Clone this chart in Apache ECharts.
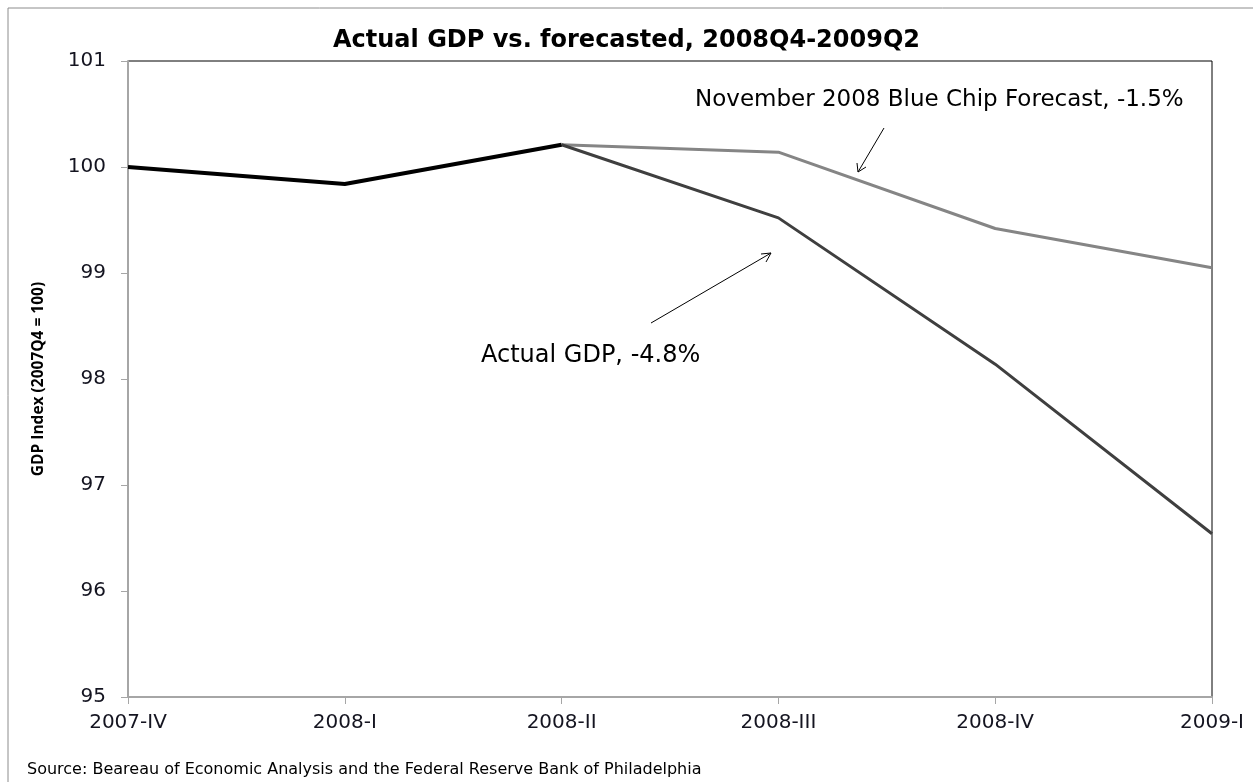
<!DOCTYPE html>
<html>
<head>
<meta charset="utf-8">
<script src="https://cdn.jsdelivr.net/npm/echarts@6/dist/echarts.min.js"></script>
<style>html,body{margin:0;padding:0;background:#fff;}#c{width:1253px;height:782px;}</style>
</head>
<body>
<div id="c"></div>
<script>
var categories = ['2007-IV', '2008-I', '2008-II', '2008-III', '2008-IV', '2009-I'];
var actualHistory = [100.0, 99.84, 100.21, null, null, null];
var actualGDP = [null, null, 100.21, 99.52, 98.14, 96.54];
var blueChipForecast = [null, null, 100.21, 100.14, 99.42, 99.05];
var yTicks = [95, 96, 97, 98, 99, 100, 101];

var FONT = '"DejaVu Sans", "Open Sans", sans-serif';
var NARROW = '"Open Sans", "Noto Sans", sans-serif';
var chart = echarts.init(document.getElementById('c'), null, {renderer: 'canvas'});
chart.setOption({
  animation: false,
  backgroundColor: '#fff',
  title: {
    text: 'Actual GDP vs. forecasted, 2008Q4-2009Q2',
    left: 'center', top: 24,
    textStyle: {fontFamily: FONT, fontWeight: 'bold', fontSize: 24, color: '#000'}
  },
  grid: {left: 128, top: 61, right: 41, bottom: 85, show: true, borderColor: '#000', borderWidth: 1, backgroundColor: 'transparent'},
  xAxis: {
    type: 'category', data: categories, boundaryGap: false,
    axisLine: {lineStyle: {color: '#a6a6a6', width: 2}},
    axisTick: {show: true, length: 7, lineStyle: {color: '#a6a6a6', width: 1}},
    axisLabel: {fontFamily: FONT, fontSize: 20, color: '#141420', margin: 16},
    splitLine: {show: false}
  },
  yAxis: {
    type: 'value', min: yTicks[0], max: yTicks[yTicks.length - 1], interval: 1,
    name: 'GDP Index (2007Q4 = 100)', nameLocation: 'middle', nameGap: 81,
    nameTextStyle: {fontFamily: NARROW, fontWeight: 'bold', fontSize: 15.5, color: '#000'},
    axisLine: {show: true, lineStyle: {color: '#a6a6a6', width: 2}},
    axisTick: {show: true, length: 7, lineStyle: {color: '#a6a6a6', width: 1}},
    axisLabel: {fontFamily: FONT, fontSize: 20, color: '#141420', margin: 22},
    splitLine: {show: false}
  },
  series: [
    {name: 'Forecast', type: 'line', data: blueChipForecast, symbol: 'none',
     lineStyle: {color: '#858585', width: 3}, z: 2},
    {name: 'Actual', type: 'line', data: actualGDP, symbol: 'none',
     lineStyle: {color: '#3f3f3f', width: 3}, z: 3},
    {name: 'Actual history', type: 'line', data: actualHistory, symbol: 'none',
     lineStyle: {color: '#000', width: 4}, z: 4}
  ],
  graphic: [
    {type: 'polyline', shape: {points: [[8, 800], [8, 8], [1260, 8]]}, style: {stroke: '#8c8c8c', lineWidth: 1, fill: null}},
    {type: 'text', left: 695, top: 89, style: {text: 'November 2008 Blue Chip Forecast, -1.5%', fontFamily: FONT, fontSize: 23, fill: '#000'}},
    {type: 'text', left: 481, top: 344, style: {text: 'Actual GDP, -4.8%', fontFamily: FONT, fontSize: 24, fill: '#000'}},
    {type: 'line', shape: {x1: 884, y1: 128, x2: 858, y2: 172}, style: {stroke: '#000', lineWidth: 1}},
    {type: 'polyline', shape: {points: [[857, 163], [858, 172], [866, 167]]}, style: {stroke: '#000', lineWidth: 1, fill: null}},
    {type: 'line', shape: {x1: 651, y1: 323, x2: 771, y2: 253}, style: {stroke: '#000', lineWidth: 1}},
    {type: 'polyline', shape: {points: [[761, 254], [771, 253], [766, 262]]}, style: {stroke: '#000', lineWidth: 1, fill: null}},
    {type: 'text', left: 27, top: 762, style: {text: 'Source: Beareau of Economic Analysis and the Federal Reserve Bank of Philadelphia', fontFamily: FONT, fontSize: 16, fill: '#000'}}
  ]
});
</script>
</body>
</html>
